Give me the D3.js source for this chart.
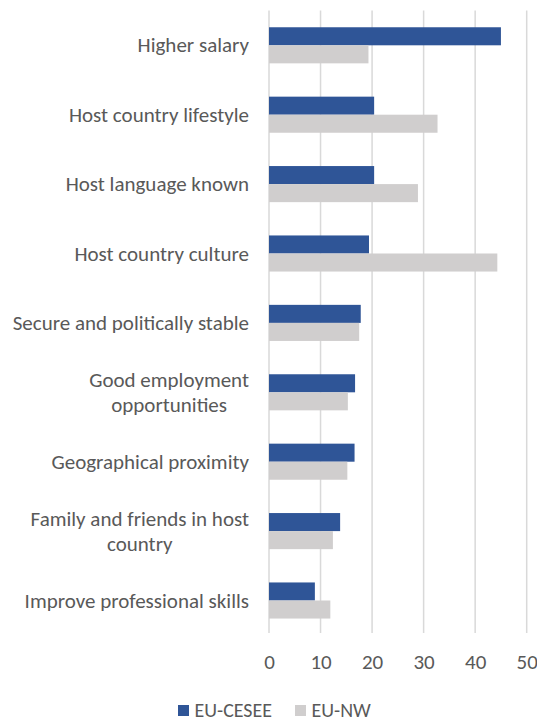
<!DOCTYPE html>
<html>
<head>
<meta charset="utf-8">
<script src="https://cdn.jsdelivr.net/npm/d3@7"></script>
<style>
  html, body { margin: 0; padding: 0; background: #fff; }
  svg { display: block; }
  text { font-family: Carlito, Calibri, Lato, "Open Sans", sans-serif; fill: #595959; }
</style>
</head>
<body>
<svg id="chart" width="537" height="722"></svg>
<script>
// Reasons for choosing a host country, by origin region (%)
const categories = [
  ["Higher salary"],
  ["Host country lifestyle"],
  ["Host language known"],
  ["Host country culture"],
  ["Secure and politically stable"],
  ["Good employment", "opportunities"],
  ["Geographical proximity"],
  ["Family and friends in host", "country"],
  ["Improve professional skills"]
];
const seriesNames = ["EU-CESEE", "EU-NW"];
const cesee = [45.0, 20.4, 20.4, 19.4, 17.8, 16.7, 16.6, 13.8, 8.9];
const nw    = [19.3, 32.7, 28.9, 44.3, 17.5, 15.3, 15.2, 12.4, 11.9];
const tickValues = [0, 10, 20, 30, 40, 50];
const colors = ["#2F5597", "#D0CECE"];

const svg = d3.select("#chart");
const labelRight = 249;

const rows = categories.map((c, i) => ({ key: c.join(" "), lines: c, values: [cesee[i], nw[i]] }));

const x = d3.scaleLinear().domain([0, 50]).range([269, 526.7]);
const y = d3.scaleBand()
  .domain(rows.map(d => d.key))
  .range([10.6, 635.2])
  .paddingInner(0.48)
  .paddingOuter(0.24);
const ySub = d3.scaleBand().domain(seriesNames).range([0, y.bandwidth()]);

// Fit the label font so the longest single-line label spans its measured width
const probe = svg.append("text").attr("font-size", 21).text("Secure and politically stable");
const probeW = probe.node().getComputedTextLength();
probe.remove();
const fontSize = Math.min(21, 21 * 241 / probeW);

// Vertical gridlines
svg.append("g")
  .selectAll("line")
  .data(tickValues)
  .join("line")
  .attr("x1", d => x(d)).attr("x2", d => x(d))
  .attr("y1", 10.6).attr("y2", 633)
  .attr("stroke", "#D9D9D9")
  .attr("stroke-width", 1.5);

// Bars
const groups = svg.append("g")
  .selectAll("g")
  .data(rows)
  .join("g")
  .attr("transform", d => `translate(0,${y(d.key)})`);

groups.selectAll("rect")
  .data(d => d.values.map((v, i) => ({ name: seriesNames[i], value: v, i })))
  .join("rect")
  .attr("x", x(0))
  .attr("y", d => ySub(d.name))
  .attr("width", d => x(d.value) - x(0))
  .attr("height", ySub.bandwidth())
  .attr("fill", d => colors[d.i]);

// Category labels (multi-line labels are centred as a block)
const labels = svg.append("g")
  .selectAll("text")
  .data(rows)
  .join("text")
  .attr("font-size", fontSize)
  .attr("dominant-baseline", "central");

labels.each(function (d) {
  const t = d3.select(this);
  const cy = y(d.key) + y.bandwidth() / 2;
  if (d.lines.length === 1) {
    t.attr("x", labelRight).attr("y", cy).attr("text-anchor", "end").text(d.lines[0]);
  } else {
    const tmp = svg.append("text").attr("font-size", fontSize);
    const widths = d.lines.map(l => { tmp.text(l); return tmp.node().getComputedTextLength(); });
    tmp.remove();
    const cx = labelRight - d3.max(widths) / 2;
    t.attr("text-anchor", "middle");
    d.lines.forEach((l, k) => {
      t.append("tspan")
        .attr("x", cx)
        .attr("y", cy + (k - (d.lines.length - 1) / 2) * 25)
        .text(l);
    });
  }
});

// X axis tick labels
const xAxis = d3.axisBottom(x).tickValues(tickValues).tickSize(0).tickPadding(0);
const axisG = svg.append("g").attr("transform", "translate(0,653)").call(xAxis);
axisG.select(".domain").remove();
axisG.selectAll("text")
  .attr("font-size", fontSize)
  .attr("font-family", null)
  .attr("fill", "#595959")
  .attr("dy", "0.75em");

// Legend
const legendItems = [
  { name: seriesNames[0], color: colors[0], x: 178 },
  { name: seriesNames[1], color: colors[1], x: 295 }
];
const legend = svg.append("g").selectAll("g").data(legendItems).join("g");
legend.append("rect")
  .attr("x", d => d.x).attr("y", 705)
  .attr("width", 11).attr("height", 11)
  .attr("fill", d => d.color);
legend.append("text")
  .attr("x", d => d.x + 16.5).attr("y", 716.5)
  .attr("font-size", fontSize * 0.95)
  .text(d => d.name);
</script>
</body>
</html>
